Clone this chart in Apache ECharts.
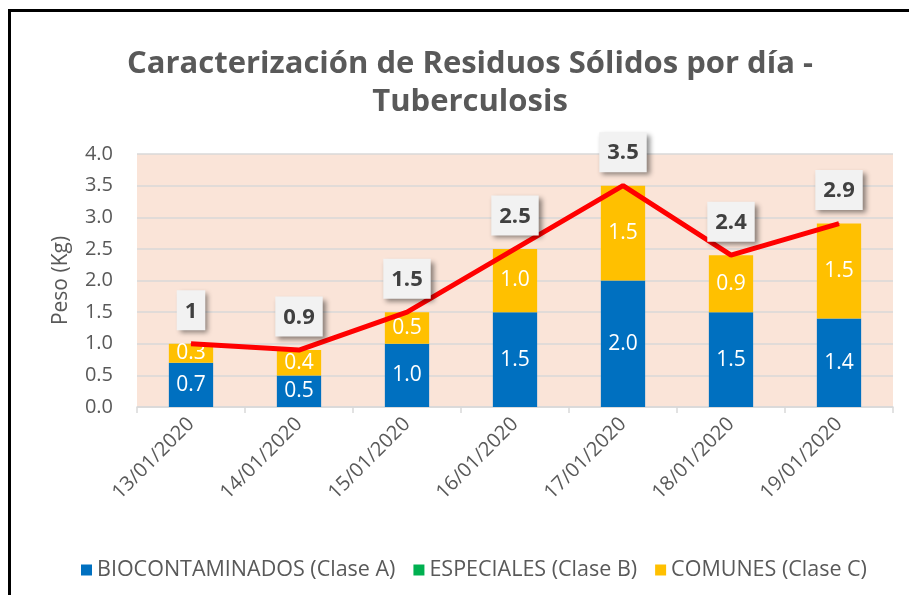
<!DOCTYPE html>
<html><head><meta charset="utf-8">
<script src="https://cdn.jsdelivr.net/npm/echarts@6/dist/echarts.min.js"></script>
<style>html,body{margin:0;padding:0;background:#fff;}#c{width:909px;height:595px;}</style>
</head><body><div id="c"></div>
<script>
var categories = ['13/01/2020','14/01/2020','15/01/2020','16/01/2020','17/01/2020','18/01/2020','19/01/2020'];
var claseA = [0.7, 0.5, 1.0, 1.5, 2.0, 1.5, 1.4];
var claseB = [0, 0, 0, 0, 0, 0, 0];
var claseC = [0.3, 0.4, 0.5, 1.0, 1.5, 0.9, 1.5];
var totals = [1, 0.9, 1.5, 2.5, 3.5, 2.4, 2.9];
var yTicks = [0, 0.5, 1.0, 1.5, 2.0, 2.5, 3.0, 3.5, 4.0];

var FONT = 'Open Sans';
var chart = echarts.init(document.getElementById('c'));
var inLabel = {show: true, position: 'inside', color: '#fff', fontSize: 21, fontFamily: FONT,
  formatter: function(p){ return p.value.toFixed(1); }};
chart.setOption({
  animation: false,
  backgroundColor: '#fff',
  textStyle: {fontFamily: FONT},
  title: {
    text: 'Caracterización de Residuos Sólidos por día -\nTuberculosis',
    left: 465, top: 40, textAlign: 'center',
    textStyle: {color: '#595959', fontSize: 31, fontWeight: 'bold', fontFamily: FONT, lineHeight: 38}
  },
  graphic: [
    {type: 'rect', shape: {x: 8, y: 9, width: 905, height: 3}, style: {fill: '#000'}, silent: true},
    {type: 'rect', shape: {x: 8, y: 9, width: 3, height: 600}, style: {fill: '#000'}, silent: true}
  ],
  legend: {
    top: 554, left: 76, itemWidth: 11, itemHeight: 11, itemGap: 18,
    icon: 'rect',
    textStyle: {color: '#595959', fontSize: 21.5, fontFamily: FONT},
    data: ['BIOCONTAMINADOS (Clase A)', 'ESPECIALES (Clase B)', 'COMUNES (Clase C)']
  },
  grid: {left: 137, right: 16, top: 154, bottom: 188, show: true, backgroundColor: '#FAE4D8', borderWidth: 0},
  xAxis: {
    type: 'category', data: categories,
    axisLine: {lineStyle: {color: '#D9D9D9', width: 1.5}},
    axisTick: {show: true, length: 6, lineStyle: {color: '#D9D9D9', width: 1.5}},
    axisLabel: {rotate: 45, color: '#595959', fontSize: 20, margin: 14, fontFamily: FONT}
  },
  yAxis: {
    type: 'value', min: 0, max: 4, interval: 0.5,
    name: 'Peso (Kg)', nameLocation: 'middle', nameGap: 65, nameRotate: 90,
    nameTextStyle: {color: '#595959', fontSize: 21, fontFamily: FONT},
    axisLine: {show: false}, axisTick: {show: false},
    axisLabel: {color: '#595959', fontSize: 20, margin: 24, fontFamily: FONT,
      formatter: function(v){ return v.toFixed(1); }},
    splitLine: {lineStyle: {color: '#D9D9D9', width: 1.5}}
  },
  series: [
    {name: 'BIOCONTAMINADOS (Clase A)', type: 'bar', stack: 't', data: claseA, barWidth: '41%',
      itemStyle: {color: '#0070C0'}, label: inLabel},
    {name: 'ESPECIALES (Clase B)', type: 'bar', stack: 't', data: claseB,
      itemStyle: {color: '#00B050'}, label: {show: false}},
    {name: 'COMUNES (Clase C)', type: 'bar', stack: 't', data: claseC,
      itemStyle: {color: '#FFC000'}, label: inLabel},
    {name: 'Total', type: 'line', data: totals, symbol: 'circle', symbolSize: 1, showSymbol: true, z: 5,
      itemStyle: {color: '#FF0000'},
      lineStyle: {color: '#FF0000', width: 5},
      label: {show: true, position: 'top', distance: 13, color: '#404040', fontSize: 22, fontWeight: 'bold',
        fontFamily: FONT, backgroundColor: '#F2F2F2', padding: [10, 8, 8, 8],
        shadowColor: 'rgba(0,0,0,0.45)', shadowBlur: 5, shadowOffsetX: 3, shadowOffsetY: 3,
        formatter: function(p){ return String(p.value); }}}
  ]
});
</script></body></html>
